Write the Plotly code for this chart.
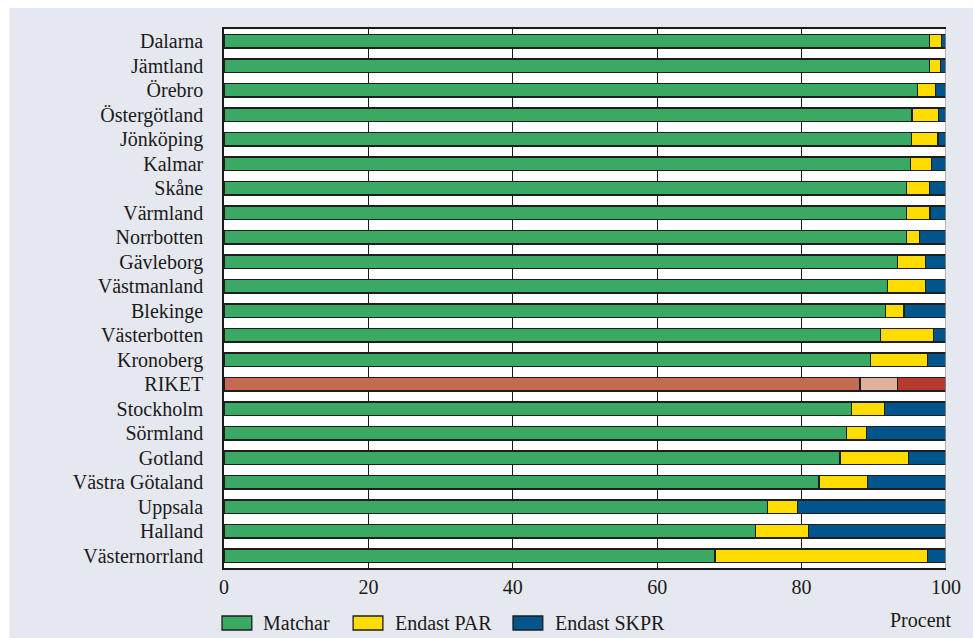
import plotly.graph_objects as go

regions = ["Dalarna", "Jämtland", "Örebro", "Östergötland", "Jönköping", "Kalmar",
           "Skåne", "Värmland", "Norrbotten", "Gävleborg", "Västmanland", "Blekinge",
           "Västerbotten", "Kronoberg", "RIKET", "Stockholm", "Sörmland", "Gotland",
           "Västra Götaland", "Uppsala", "Halland", "Västernorrland"]
matchar = [97.7, 97.7, 96.1, 95.3, 95.2, 95.1, 94.5, 94.5, 94.5, 93.3, 91.9, 91.6,
           90.9, 89.5, 88.1, 86.9, 86.2, 85.3, 82.4, 75.3, 73.6, 68.0]
endast_par = [1.7, 1.5, 2.4, 3.7, 3.7, 2.9, 3.2, 3.3, 1.8, 3.9, 5.3, 2.6,
              7.4, 7.9, 5.2, 4.6, 2.8, 9.5, 6.7, 4.1, 7.4, 29.4]
endast_skpr = [0.6, 0.8, 1.5, 1.0, 1.1, 2.0, 2.3, 2.2, 3.7, 2.8, 2.8, 5.8,
               1.7, 2.6, 6.7, 8.5, 11.0, 5.2, 10.9, 20.6, 19.0, 2.6]
series_names = ["Matchar", "Endast PAR", "Endast SKPR"]
x_ticks = [0, 20, 40, 60, 80, 100]

base_colors = ["#3AA964", "#FFDC00", "#00558C"]
riket_colors = ["#C76A52", "#E0B19C", "#B53A30"]
OUTLINE = "#1E1E1E"
FONT = "Liberation Serif"

fig = go.Figure()
for name, vals, col, rcol in zip(series_names, [matchar, endast_par, endast_skpr], base_colors, riket_colors):
    colors = [rcol if r == "RIKET" else col for r in regions]
    fig.add_trace(go.Bar(
        y=regions, x=vals, name=name, orientation="h", showlegend=False,
        marker=dict(color=colors, line=dict(color=OUTLINE, width=1.3)),
        hoverinfo="x+y",
    ))

W, H = 973, 638
ml, mr, mt, mb = 224, 22, 29, 70
pw, ph = W - ml - mr, H - mt - mb


def px_x(p):
    return (p - ml) / pw


def px_y(p):
    return (H - mb - p) / ph


shapes = [
    # white page margin on the left and top
    dict(type="rect", xref="paper", yref="paper", x0=px_x(-5), x1=px_x(8), y0=px_y(H + 5), y1=px_y(-5),
         fillcolor="white", line=dict(width=0), layer="above"),
    dict(type="rect", xref="paper", yref="paper", x0=px_x(-5), x1=px_x(W + 5), y0=px_y(8), y1=px_y(-5),
         fillcolor="white", line=dict(width=0), layer="above"),
    dict(type="line", xref="x", yref="paper", x0=100, x1=100, y0=0, y1=1,
         line=dict(color="#9A9A9A", width=1.5), layer="above"),
]
annotations = []

# legend (swatches + labels) drawn below the plot
legend_box_x = [222, 354, 515]
legend_text_x = [261, 394, 555]
for name, col, bx, tx in zip(series_names, base_colors, legend_box_x, legend_text_x):
    shapes.append(dict(type="rect", xref="paper", yref="paper",
                       x0=px_x(bx), x1=px_x(bx + 30), y0=px_y(630), y1=px_y(616),
                       fillcolor=col, line=dict(color=OUTLINE, width=1.3)))
    annotations.append(dict(text=name, xref="paper", yref="paper", x=px_x(tx), y=px_y(623),
                            xanchor="left", yanchor="middle", showarrow=False,
                            font=dict(size=20)))

annotations.append(dict(text="Procent", xref="paper", yref="paper", x=px_x(959), y=px_y(620),
                        xanchor="right", yanchor="middle", showarrow=False, font=dict(size=20)))

fig.update_layout(
    width=W, height=H,
    barmode="stack", bargap=0.44,
    paper_bgcolor="#E6E8EF", plot_bgcolor="white",
    margin=dict(l=ml, r=mr, t=mt, b=mb, pad=0),
    font=dict(family=FONT, size=20, color="#1A1A1A"),
    shapes=shapes,
    annotations=annotations,
    showlegend=False,
    xaxis=dict(range=[0, 100], tickvals=x_ticks, ticktext=[str(v) for v in x_ticks],
               showgrid=True, gridcolor="#1A1A1A", gridwidth=1.2,
               showline=True, linecolor="#1A1A1A", linewidth=1.5, mirror=True,
               ticks="inside", ticklen=6, tickcolor="#1A1A1A",
               tickfont=dict(size=20), zeroline=False, fixedrange=True),
    yaxis=dict(categoryorder="array", categoryarray=regions, autorange="reversed",
               showline=True, linecolor="#1A1A1A", linewidth=1.5, showgrid=False,
               ticks="", ticklabelstandoff=15, tickfont=dict(size=20)),
)

fig.write_html("out.html",
               config={"displayModeBar": False},
               post_script="document.body.style.margin='0px';document.body.style.overflow='hidden';")
